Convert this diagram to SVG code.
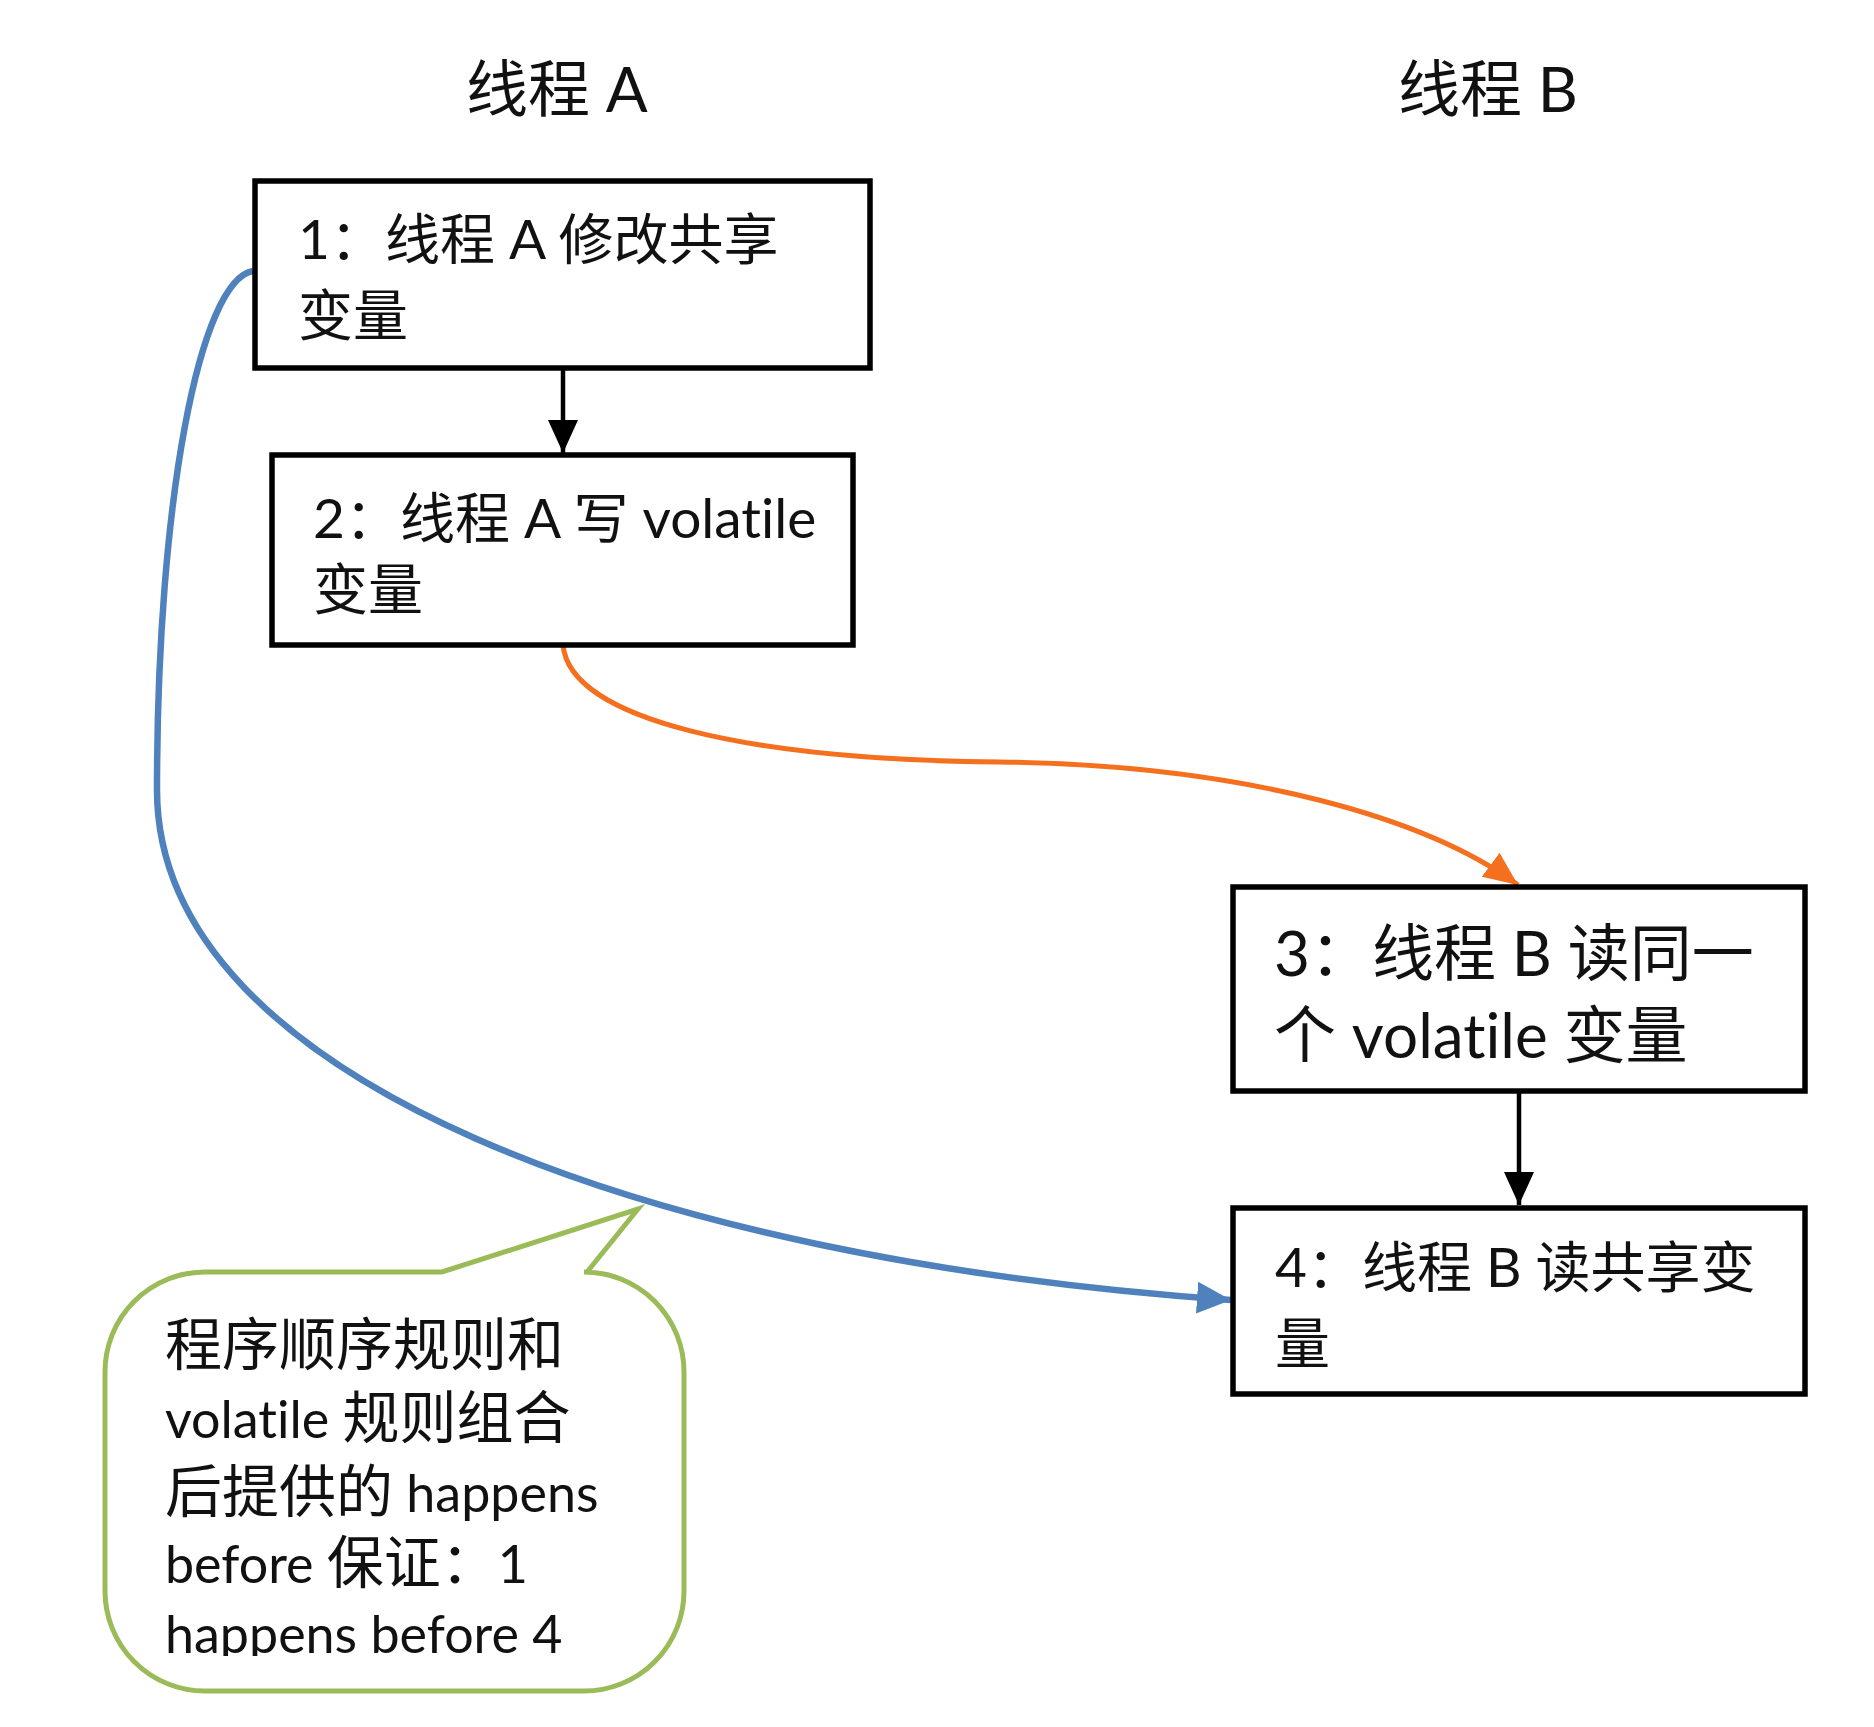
<svg xmlns="http://www.w3.org/2000/svg" width="1874" height="1727" viewBox="0 0 1874 1727">
<style>
  .t { font-family: "Lato", "Noto Sans CJK SC", sans-serif; fill: #111; font-variant-ligatures: none; font-feature-settings: "liga" 0; }
  .title { font-size: 62px; }
  .lbl { font-size: 55px; }
  .lbl3 { font-size: 62px; }
  .note { font-size: 57px; }
  .lat { font-size: 52px; }
  .box { fill: #fff; stroke: #000; stroke-width: 5.5; }
  .blk { fill: none; stroke: #000; stroke-width: 4.5; }
</style>
<defs>
  <marker id="ahBlack" markerUnits="userSpaceOnUse" markerWidth="34" markerHeight="34" viewBox="0 0 34 34" refX="33" refY="17" orient="auto">
    <path d="M0,2 L33,17 L0,32 Z" fill="#000"/>
  </marker>
  <marker id="ahOrange" markerUnits="userSpaceOnUse" markerWidth="36" markerHeight="36" viewBox="0 0 36 36" refX="34" refY="18" orient="auto">
    <path d="M0,3 L34,18 L0,33 Z" fill="#F5701E"/>
  </marker>
  <marker id="ahBlue" markerUnits="userSpaceOnUse" markerWidth="36" markerHeight="36" viewBox="0 0 36 36" refX="34" refY="18" orient="auto">
    <path d="M0,2 L34,18 L0,34 Z" fill="#4F81BD"/>
  </marker>
  <clipPath id="calloutClip">
    <rect x="100" y="1300" width="600" height="356"/>
  </clipPath>
</defs>

<rect width="1874" height="1727" fill="#fff"/>

<g id="title-a"><text class="t title" x="466" y="112">线程 A</text></g>
<g id="title-b"><text class="t title" x="1398" y="112">线程 B</text></g>

<g id="connectors">
  <line class="blk" x1="563" y1="368" x2="563" y2="453" marker-end="url(#ahBlack)"/>
  <line class="blk" x1="1519" y1="1091" x2="1519" y2="1205" marker-end="url(#ahBlack)"/>
  <path d="M563,645 C570,720 750,760 1000,762 C1250,765 1430,820 1518,885" fill="none" stroke="#F5701E" stroke-width="5" marker-end="url(#ahOrange)"/>
  <path d="M253,271 C200,280 157,500 157,790 C157,1080 650,1260 1231,1300" fill="none" stroke="#4F81BD" stroke-width="6.5" marker-end="url(#ahBlue)"/>
</g>

<g id="node1">
  <rect class="box" x="255" y="181" width="615" height="187"/>
  <text class="t lbl" x="298" y="259">1：线程 A 修改共享</text>
  <text class="t lbl" x="298" y="335">变量</text>
</g>

<g id="node2">
  <rect class="box" x="272" y="455" width="581" height="190"/>
  <text class="t lbl" x="313" y="538">2：线程 A 写 volatile</text>
  <text class="t lbl" x="313" y="609">变量</text>
</g>

<g id="node3">
  <rect class="box" x="1233" y="887" width="572" height="204"/>
  <text class="t lbl3" x="1274" y="976">3：线程 B 读同一</text>
  <text class="t lbl3" x="1274" y="1058">个 volatile 变量</text>
</g>

<g id="node4">
  <rect class="box" x="1233" y="1208" width="572" height="186"/>
  <text class="t lbl" x="1275" y="1287">4：线程 B 读共享变</text>
  <text class="t lbl" x="1275" y="1363">量</text>
</g>

<g id="callout">
  <path d="M205,1272 L442,1272 L638,1209 L587,1272 L584,1272 A100,100 0 0 1 684,1372 L684,1591 A100,100 0 0 1 584,1691 L205,1691 A100,100 0 0 1 105,1591 L105,1372 A100,100 0 0 1 205,1272 Z" fill="#fff" stroke="#9BBB59" stroke-width="5" stroke-linejoin="miter"/>
  <g clip-path="url(#calloutClip)">
    <text class="t note" x="165" y="1365">程序顺序规则和</text>
    <text class="t note" x="165" y="1438"><tspan class="lat">volatile </tspan>规则组合</text>
    <text class="t note" x="165" y="1512">后提供的<tspan class="lat"> happens</tspan></text>
    <text class="t note" x="165" y="1583"><tspan class="lat">before </tspan>保证：<tspan class="lat">1</tspan></text>
    <text class="t note lat" x="165" y="1653">happens before 4</text>
  </g>
</g>
</svg>
